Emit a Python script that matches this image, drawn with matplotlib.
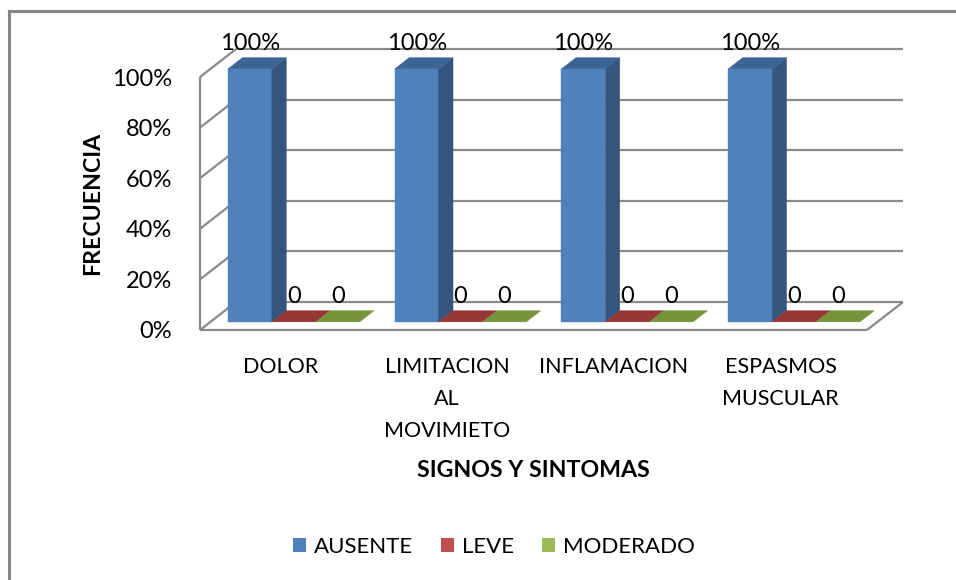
import matplotlib
matplotlib.use("Agg")
import matplotlib.pyplot as plt
from matplotlib.patches import Polygon, Patch
from matplotlib.lines import Line2D

# Signs and symptoms, share of patients per severity level
categories = ["DOLOR", "LIMITACION\nAL\nMOVIMIETO", "INFLAMACION", "ESPASMOS\nMUSCULAR"]
series_names = ["AUSENTE", "LEVE", "MODERADO"]
ausente = [1.0, 1.0, 1.0, 1.0]
leve = [0, 0, 0, 0]
moderado = [0, 0, 0, 0]
label_formats = ["{:.0%}", "{:.0f}", "{:.0f}"]
yticks = [0, 0.2, 0.4, 0.6, 0.8, 1.0]
ytick_labels = ["0%", "20%", "40%", "60%", "80%", "100%"]
x_title = "SIGNOS Y SINTOMAS"
y_title = "FRECUENCIA"

values = [ausente, leve, moderado]

# colours: front face / top face / side face
front_cols = ["#4F81BD", "#C0504D", "#9BBB59"]
top_cols = ["#3C6494", "#953735", "#77933C"]
side_cols = ["#33557E", "#7E2E2C", "#637B32"]
line_col = "#8A8A8A"

FONT = "Lato"
FS_NUM = 17     # numbers
FS_CAT = 15.5   # category names
FS_LEG = 16
FS_BOLD = 16.7

W, H = 956, 580
fig = plt.figure(figsize=(W / 100, H / 100), dpi=100)
ax = fig.add_axes([200 / W, 250 / H, 667 / W, 253 / H])
ax.set_xlim(0, len(categories))
ax.set_ylim(0, 1)
for sp in ax.spines.values():
    sp.set_visible(False)

# oblique depth: full depth of the box in data units
DX = 36 / (667 / len(categories))
DY = 28 / 253
D0, D1 = 0.29, 0.69  # bar front / back depth
GAP = 0.8
bw = 1 / (len(series_names) + GAP)


def proj(x, y, d):
    return x + d * DX, y + d * DY


def seg(p, q, **kw):
    (x0, y0), (x1, y1) = proj(*p), proj(*q)
    ax.plot([x0, x1], [y0, y1], color=line_col, lw=1.6, clip_on=False,
            solid_capstyle="butt", **kw)


def face(pts, color, z):
    ax.add_patch(Polygon([proj(*p) for p in pts], closed=True, facecolor=color,
                         edgecolor=color, lw=0.3, clip_on=False, zorder=z))


n = len(categories)
# back wall gridlines and left wall
for v in yticks:
    seg((0, v, 1), (n, v, 1), zorder=1)
    seg((0, v, 0), (0, v, 1), zorder=1)
seg((0, 0, 0), (0, 1, 0), zorder=1)
# floor outline
seg((0, 0, 0), (n, 0, 0), zorder=1)
seg((n, 0, 0), (n, 0, 1), zorder=1)

# bars, drawn left to right so nearer faces cover earlier ones
z = 2
for i in range(n):
    for s in range(len(series_names)):
        v = values[s][i]
        x0 = i + GAP / 2 * bw + s * bw
        x1 = x0 + bw
        if v > 0:
            face([(x0, 0, D0), (x1, 0, D0), (x1, v, D0), (x0, v, D0)], front_cols[s], z)
            face([(x1, 0, D0), (x1, 0, D1), (x1, v, D1), (x1, v, D0)], side_cols[s], z)
        face([(x0, v, D0), (x1, v, D0), (x1, v, D1), (x0, v, D1)], top_cols[s], z)
        z += 1
        ax.annotate(label_formats[s].format(v), proj((x0 + x1) / 2, v, D0),
                    xytext=(0, 19), textcoords="offset pixels", ha="center",
                    va="baseline", fontsize=FS_NUM, family=FONT, zorder=50,
                    annotation_clip=False)

# y axis tick labels
ax.set_xticks([])
ax.set_yticks(yticks)
ax.set_yticklabels(ytick_labels, fontsize=FS_NUM, family=FONT)
ax.tick_params(axis="y", length=0, pad=20)

# category labels, one line at a time
for i, lab in enumerate(categories):
    for k, line in enumerate(lab.split("\n")):
        ax.annotate(line, (i + 0.5, 0), xytext=(-3, -43 - 32 * k),
                    textcoords="offset pixels", ha="center", va="baseline",
                    fontsize=FS_CAT, family=FONT, annotation_clip=False)

ax.annotate(x_title, (n / 2, 0), xytext=(0, -147), textcoords="offset pixels",
            ha="center", va="baseline", fontsize=FS_BOLD, family=FONT,
            fontweight="bold", annotation_clip=False)
ax.annotate(y_title, (0, 0.5), xytext=(-107, 0), textcoords="offset pixels",
            ha="center", va="center", rotation=90, fontsize=FS_BOLD, family=FONT,
            fontweight="bold", annotation_clip=False)

# legend
fs_px = FS_LEG * 100 / 72
handles = [Patch(facecolor=c, edgecolor="none") for c in front_cols]
fig.legend(handles, series_names, loc="center", ncol=3, frameon=False,
           bbox_to_anchor=(493.5 / W, 1 - 547 / H),
           prop={"family": FONT, "size": FS_LEG},
           handlelength=13 / fs_px, handleheight=13 / fs_px,
           handletextpad=8 / fs_px, columnspacing=28 / fs_px)

# chart border (top and left edges sit inside the image)
fig.add_artist(Line2D([8.5 / W, 8.5 / W], [0, 1 - 11 / H], color="#868686", lw=2.2))
fig.add_artist(Line2D([8.5 / W, 1], [1 - 11 / H, 1 - 11 / H], color="#868686", lw=2.2))

fig.savefig("out.png", dpi=100, facecolor="white")
